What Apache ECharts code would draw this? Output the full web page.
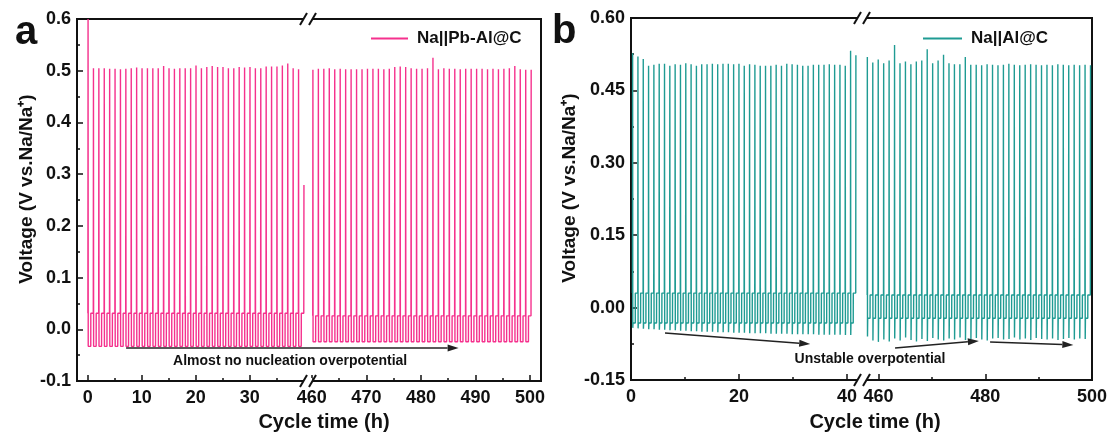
<!DOCTYPE html>
<html>
<head>
<meta charset="utf-8">
<script src="https://cdn.jsdelivr.net/npm/echarts@6/dist/echarts.min.js"></script>
<style>
  html, body { margin: 0; background: #fff; }
  #chart { width: 1113px; height: 436px; }
</style>
</head>
<body>
<div id="chart"></div>
<script>
// peak (cut-off) voltage of every cycle, plateau levels, nucleation dips
const FONT = 'Liberation Sans, Arial, sans-serif';
const PINK = '#f5318d';
const TEAL = '#1f9b93';

// panel a, Na||Pb-Al@C  (first value = initial spike, last = cycle cut by the break)
const peaksA1 = [0.600, 0.505, 0.505, 0.505, 0.504, 0.504, 0.503, 0.504, 0.505, 0.506, 0.505,
  0.505, 0.505, 0.505, 0.509, 0.505, 0.504, 0.505, 0.505, 0.505, 0.510, 0.505, 0.507, 0.509,
  0.507, 0.507, 0.505, 0.505, 0.507, 0.506, 0.507, 0.505, 0.505, 0.508, 0.508, 0.508, 0.510,
  0.514, 0.505, 0.503, 0.279];
const peaksA2 = [0.502, 0.504, 0.504, 0.505, 0.503, 0.504, 0.503, 0.503, 0.503, 0.503, 0.504,
  0.504, 0.504, 0.503, 0.504, 0.507, 0.508, 0.507, 0.505, 0.504, 0.504, 0.505, 0.525, 0.503,
  0.505, 0.504, 0.504, 0.503, 0.504, 0.504, 0.504, 0.504, 0.503, 0.504, 0.503, 0.504, 0.505,
  0.509, 0.503, 0.502, 0.502];
const lowA = [-0.033, -0.024];
const highA = [0.031, 0.026];

// panel b, Na||Al@C
const peaksB1 = [0.527, 0.520, 0.515, 0.501, 0.503, 0.505, 0.505, 0.501, 0.504, 0.503, 0.506,
  0.504, 0.501, 0.504, 0.504, 0.505, 0.504, 0.505, 0.505, 0.504, 0.505, 0.501, 0.504, 0.503,
  0.501, 0.501, 0.501, 0.503, 0.501, 0.505, 0.504, 0.503, 0.501, 0.501, 0.503, 0.503, 0.503,
  0.504, 0.503, 0.503, 0.501, 0.532, 0.523];
const peaksB2 = [0.519, 0.508, 0.514, 0.506, 0.512, 0.544, 0.506, 0.510, 0.504, 0.510, 0.512,
  0.535, 0.506, 0.512, 0.524, 0.506, 0.504, 0.504, 0.519, 0.503, 0.503, 0.502, 0.504, 0.503,
  0.502, 0.503, 0.505, 0.503, 0.502, 0.503, 0.504, 0.503, 0.502, 0.503, 0.502, 0.504, 0.503,
  0.502, 0.503, 0.502, 0.503, 0.502];
const dipsB1 = [-0.042, -0.043, -0.044, -0.045, -0.045, -0.046, -0.046, -0.047, -0.047, -0.048,
  -0.048, -0.049, -0.049, -0.050, -0.050, -0.050, -0.051, -0.051, -0.051, -0.052, -0.052, -0.052,
  -0.053, -0.053, -0.053, -0.053, -0.054, -0.054, -0.054, -0.054, -0.055, -0.055, -0.055, -0.055,
  -0.055, -0.056, -0.056, -0.056, -0.056, -0.056, -0.057, -0.057];
const dipsB2 = [-0.060, -0.068, -0.071, -0.066, -0.070, -0.064, -0.068, -0.062, -0.067, -0.070,
  -0.065, -0.069, -0.063, -0.066, -0.068, -0.064, -0.066, -0.062, -0.067, -0.065, -0.063, -0.066,
  -0.068, -0.064, -0.063, -0.066, -0.065, -0.062, -0.066, -0.064, -0.067, -0.063, -0.065, -0.066,
  -0.064, -0.067, -0.065, -0.063, -0.066, -0.064, -0.065];
const lowB = [-0.032, -0.022];
const highB = [0.030, 0.026];

// cycle timing (h): time of first spike, cycle length
const timingA1 = [0.05, 1.0];
const timingA2 = [460.2, 1.0];
const timingB1 = [0.3, 0.985];
const timingB2 = [457.9, 1.02];

// tick labels
const xTicksA1 = [0, 10, 20, 30];
const xMinorA1 = [5, 15, 25, 35];
const xTicksA2 = [460, 470, 480, 490, 500];
const xMinorA2 = [465, 475, 485, 495];
const xTicksB1 = [0, 20, 40];
const xMinorB1 = [10, 30];
const xTicksB2 = [460, 480, 500];
const xMinorB2 = [470, 490];

// plating at low, stripping at high, spike to cut-off, then next plating (with nucleation dip)
function buildTrace(timing, peaks, low, high, dips) {
  const [t0, per] = timing;
  const pts = [];
  peaks.forEach((p, k) => {
    const tp = t0 + k * per;
    if (k > 0) {
      const d = dips ? dips[k - 1] : low;
      pts.push([tp - per + 0.03, d]);
      pts.push([tp - per + 0.07, low]);
      pts.push([tp - per * 0.5, low]);
      pts.push([tp - per * 0.5 + 0.01, high]);
    }
    pts.push([tp - 0.03, high]);
    pts.push([tp, p]);
  });
  return pts;
}

const grids = [
  { left: 77, top: 19, width: 231, height: 362 },
  { left: 308, top: 19, width: 233, height: 362 },
  { left: 631, top: 18, width: 231, height: 362 },
  { left: 862, top: 18, width: 230, height: 362 },
].map(g => Object.assign(g, { show: true, borderColor: '#111', borderWidth: 2, outerBoundsMode: 'none' }));

const xRanges = [[-2, 40.8], [459.3, 502], [0, 42.8], [456.9, 500]];
const xTicks = [xTicksA1, xTicksA2, xTicksB1, xTicksB2];
const xMinor = [xMinorA1, xMinorA2, xMinorB1, xMinorB2];
const labelStyle = { color: '#111', fontFamily: FONT, fontWeight: 'bold', fontSize: 18 };
const tickLine = { color: '#111', width: 1.5 };
const noLine = { show: false, onZero: false };

const xAxis = [];
grids.forEach((g, i) => {
  xAxis.push({
    type: 'value', gridIndex: i, position: 'bottom', min: xRanges[i][0], max: xRanges[i][1],
    axisLine: noLine, splitLine: { show: false },
    axisTick: { show: true, inside: true, length: 6, customValues: xTicks[i], lineStyle: tickLine },
    axisLabel: Object.assign({ customValues: xTicks[i], margin: 8 }, labelStyle),
  });
  xAxis.push({
    type: 'value', gridIndex: i, position: 'bottom', min: xRanges[i][0], max: xRanges[i][1],
    axisLine: noLine, splitLine: { show: false }, axisLabel: { show: false },
    axisTick: { show: true, inside: true, length: 3, customValues: xMinor[i], lineStyle: tickLine },
  });
});

const yName = 'Voltage (V vs.Na/Na⁺)';
const nameStyle = { color: '#111', fontFamily: FONT, fontWeight: 'bold', fontSize: 19, padding: [0, 0, 0, 22] };
const yAxis = [
  {
    type: 'value', gridIndex: 0, position: 'left', min: -0.1, max: 0.6, interval: 0.1,
    axisLine: noLine, splitLine: { show: false },
    axisTick: { inside: true, length: 6, lineStyle: tickLine },
    minorTick: { show: true, splitNumber: 2, length: 3, lineStyle: tickLine },
    axisLabel: Object.assign({ margin: 6, formatter: v => v.toFixed(1) }, labelStyle),
    name: yName, nameLocation: 'middle', nameGap: 40, nameTextStyle: nameStyle,
  },
  { type: 'value', gridIndex: 1, min: -0.1, max: 0.6, show: false, axisLine: noLine },
  {
    type: 'value', gridIndex: 2, position: 'left', min: -0.15, max: 0.6, interval: 0.15,
    axisLine: noLine, splitLine: { show: false },
    axisTick: { inside: true, length: 6, lineStyle: tickLine },
    minorTick: { show: true, splitNumber: 2, length: 3, lineStyle: tickLine },
    axisLabel: Object.assign({ margin: 6, formatter: v => v.toFixed(2) }, labelStyle),
    name: yName, nameLocation: 'middle', nameGap: 52, nameTextStyle: nameStyle,
  },
  { type: 'value', gridIndex: 3, min: -0.15, max: 0.6, show: false, axisLine: noLine },
];

function line(name, color, gi, data) {
  return {
    type: 'line', name, color, xAxisIndex: gi * 2, yAxisIndex: gi, data,
    symbol: 'none', showSymbol: false, lineStyle: { width: 1.4, color }, animation: false,
  };
}

const series = [
  line('Na||Pb-Al@C', PINK, 0, buildTrace(timingA1, peaksA1, lowA[0], highA[0], null)),
  line('Na||Pb-Al@C', PINK, 1, buildTrace(timingA2, peaksA2, lowA[1], highA[1], null)),
  line('Na||Al@C', TEAL, 2, buildTrace(timingB1, peaksB1, lowB[0], highB[0], dipsB1)),
  line('Na||Al@C', TEAL, 3, buildTrace(timingB2, peaksB2, lowB[1], highB[1], dipsB2)),
];

const legendText = { color: '#111', fontFamily: FONT, fontWeight: 'bold', fontSize: 17, padding: [0, 0, 0, 4] };
const chart = echarts.init(document.getElementById('chart'), null, { renderer: 'canvas' });
chart.setOption({
  animation: false,
  grid: grids,
  xAxis, yAxis, series,
  legend: [
    { data: ['Na||Pb-Al@C'], icon: 'rect', left: 366, top: 25, itemWidth: 37, itemHeight: 2, textStyle: legendText },
    { data: ['Na||Al@C'], icon: 'rect', left: 918, top: 25, itemWidth: 39, itemHeight: 2, textStyle: legendText },
  ],
});

// annotations placed from data coordinates
const px = (g, x, y) => chart.convertToPixel({ gridIndex: g }, [x, y]);

function arrow(p1, p2) {
  const a = Math.atan2(p2[1] - p1[1], p2[0] - p1[0]);
  const L = 11, W = 3.5;
  const b = [p2[0] - L * Math.cos(a), p2[1] - L * Math.sin(a)];
  return [
    { type: 'line', z: 100, shape: { x1: p1[0], y1: p1[1], x2: b[0], y2: b[1] }, style: { stroke: '#222', lineWidth: 1.5 } },
    { type: 'polygon', z: 100, shape: { points: [p2, [b[0] + W * Math.sin(a), b[1] - W * Math.cos(a)], [b[0] - W * Math.sin(a), b[1] + W * Math.cos(a)]] }, style: { fill: '#222' } },
  ];
}

function breakMark(bx, top, bottom) {
  const els = [
    { type: 'rect', z: 100, shape: { x: bx - 2, y: top - 2, width: 4, height: bottom - top + 4 }, style: { fill: '#fff' } },
    { type: 'rect', z: 100, shape: { x: bx - 4, y: top - 3, width: 8, height: 6 }, style: { fill: '#fff' } },
    { type: 'rect', z: 100, shape: { x: bx - 4, y: bottom - 3, width: 8, height: 6 }, style: { fill: '#fff' } },
  ];
  [top, bottom].forEach(y => {
    [bx - 4.5, bx + 4.5].forEach(c => {
      els.push({ type: 'line', z: 101, shape: { x1: c - 3.5, y1: y + 6, x2: c + 3.5, y2: y - 6 }, style: { stroke: '#111', lineWidth: 2 } });
    });
  });
  return els;
}

function text(x, y, str, size, align) {
  return {
    type: 'text', z: 100, x, y,
    style: { text: str, fill: '#111', font: `bold ${size}px ${FONT}`, align: align || 'center', verticalAlign: 'middle' },
  };
}

const ta = px(0, 37.5, -0.061);
const tb = px(3, 458.4, -0.1065);
const graphic = [].concat(
  breakMark(308, 19, 381),
  breakMark(862, 18, 380),
  arrow(px(0, 7.1, -0.036), px(1, 486.9, -0.036)),
  arrow(px(2, 6.3, -0.0526), px(2, 33.2, -0.0754)),
  arrow(px(3, 463.1, -0.0837), px(3, 478.8, -0.069)),
  arrow(px(3, 480.9, -0.0713), px(3, 496.5, -0.0775)),
  [
    text(ta[0], ta[1], 'Almost no nucleation overpotential', 14),
    text(tb[0], tb[1], 'Unstable overpotential', 14),
    text(324, 422, 'Cycle time (h)', 20),
    text(875, 422, 'Cycle time (h)', 20),
    text(15, 33, 'a', 40, 'left'),
    text(552, 32, 'b', 40, 'left'),
  ]
);
chart.setOption({ graphic });
</script>
</body>
</html>
